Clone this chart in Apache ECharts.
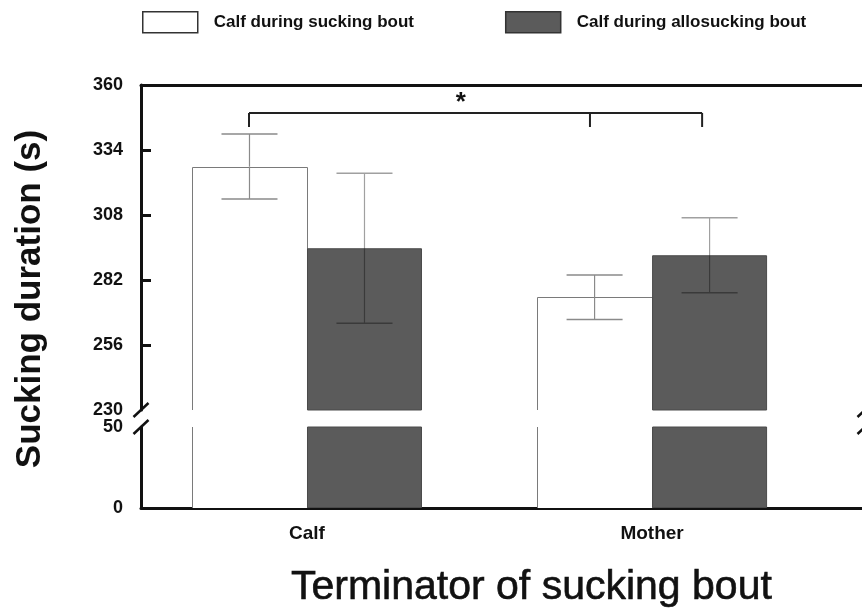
<!DOCTYPE html>
<html><head><meta charset="utf-8">
<script src="https://cdn.jsdelivr.net/npm/echarts@6/dist/echarts.min.js"></script>
<style>html,body{margin:0;padding:0;background:#fff}#c{width:862px;height:615px}</style>
</head><body><div id="c"></div>
<script>
// ---- data ----
const categories = ['Calf', 'Mother'];
const seriesNames = ['Calf during sucking bout', 'Calf during allosucking bout'];
const suckingMeans = [327.4, 275.1];
const suckingSE = [13.0, 8.9];
const allosuckingMeans = [294.7, 291.9];
const allosuckingSE = [30.0, 15.0];
const upperTickLabels = [230, 256, 282, 308, 334, 360];
const upperTickMarks = [256, 282, 308, 334];
const lowerTickLabels = [0, 50];
const bracketX = [0.832, 1.820, 2.145];
const bracketTop = 348.8;
const bracketBottom = 343.2;
const starLabel = '*';
const starPos = [1.446, 352.8];
const xTitle = 'Terminator of sucking bout';
const yTitle = 'Sucking duration (s)';

// ---- styles ----
const FONT = "'Liberation Sans', Arial, Helvetica, sans-serif";
const BAR_W = 115;
const CAP_HALF = 28;
const X_MIN = 0.519, X_MAX = 2.617;
const INK = '#111';

const chart = echarts.init(document.getElementById('c'));

const barPoints = (means) => means.map((v, i) => [i + 1, v]);
const errPoints = (means, se) => means.map((v, i) => [i + 1, v, se[i]]);

function errRenderer(side, darkBar) {
  return function (params, api) {
    const x = api.value(0), m = api.value(1), e = api.value(2);
    const top = api.coord([x, m + e]);
    const mid = api.coord([x, m]);
    const bot = api.coord([x, m - e]);
    const cx = top[0] + side * BAR_W / 2;
    const upColor = darkBar ? '#a0a0a0' : '#8a8a8a';
    const lowColor = darkBar ? '#3a3a3a' : '#8a8a8a';
    return {
      type: 'group',
      children: [
        { type: 'line', shape: { x1: cx, y1: top[1], x2: cx, y2: mid[1] }, style: { stroke: upColor, lineWidth: 1.2 } },
        { type: 'line', shape: { x1: cx - CAP_HALF, y1: top[1], x2: cx + CAP_HALF, y2: top[1] }, style: { stroke: upColor, lineWidth: 1.5 } },
        { type: 'line', shape: { x1: cx, y1: mid[1], x2: cx, y2: bot[1] }, style: { stroke: lowColor, lineWidth: 1.2 } },
        { type: 'line', shape: { x1: cx - CAP_HALF, y1: bot[1], x2: cx + CAP_HALF, y2: bot[1] }, style: { stroke: lowColor, lineWidth: 1.5 } }
      ]
    };
  };
}

// outline of the white (open) bars, without edges where the bar is cut by the axis break
function outlineRenderer(params, api) {
  const cs = params.coordSys;
  const p = api.coord([api.value(0), api.value(1)]);
  const xl = Math.round(p[0] - BAR_W) + 0.5, xr = Math.round(p[0]) + 0.5;
  const yBot = cs.y + cs.height;
  const style = { stroke: '#7a7a7a', lineWidth: 1, fill: null };
  if (p[1] > cs.y) {
    const yT = Math.round(p[1]) + 0.5;
    return { type: 'polyline', shape: { points: [[xl, yBot], [xl, yT], [xr, yT], [xr, yBot]] }, style: style };
  }
  return {
    type: 'group', children: [
      { type: 'line', shape: { x1: xl, y1: cs.y, x2: xl, y2: yBot }, style: style },
      { type: 'line', shape: { x1: xr, y1: cs.y, x2: xr, y2: yBot }, style: style }
    ]
  };
}

function slashRenderer(params, api) {
  const p = api.coord([api.value(0), api.value(1)]);
  return {
    type: 'line',
    shape: { x1: p[0] - 7.5, y1: p[1] + 7, x2: p[0] + 7.5, y2: p[1] - 7 },
    style: { stroke: INK, lineWidth: 2.5 }
  };
}

const xAxisBase = {
  type: 'value', min: X_MIN, max: X_MAX,
  splitLine: { show: false },
  axisTick: { show: false },
  axisLine: { show: true, onZero: false, lineStyle: { color: INK, width: 3 } }
};

const whiteStyle = { color: '#ffffff', borderWidth: 0 };
const darkStyle = { color: '#5b5b5b', borderColor: '#4a4a4a', borderWidth: 1 };

chart.setOption({
  animation: false,
  backgroundColor: '#fff',
  title: {
    text: xTitle, left: 291, top: 567, padding: 0,
    textStyle: { fontFamily: FONT, fontSize: 41, fontWeight: 'normal', color: INK, textBorderColor: INK, textBorderWidth: 0.6 }
  },
  legend: {
    left: 142, top: 11, padding: 0, itemWidth: 55, itemHeight: 21, itemGap: 91,
    icon: 'rect', selectedMode: false,
    textStyle: { fontFamily: FONT, fontSize: 17, fontWeight: 'bold', color: INK, padding: [6, 0, 0, 11] },
    data: [
      { name: seriesNames[0], itemStyle: { color: '#fff', borderColor: '#333', borderWidth: 1.5 } },
      { name: seriesNames[1], itemStyle: { color: '#5b5b5b', borderColor: '#333', borderWidth: 1.5 } }
    ]
  },
  graphic: [{
    type: 'text', x: 30, y: 299, rotation: Math.PI / 2,
    style: { text: yTitle, fontFamily: FONT, fontSize: 35, fontWeight: 'bold', fill: INK, align: 'center', verticalAlign: 'middle' }
  }],
  grid: [
    { left: 141, top: 85, width: 724, height: 325, outerBoundsMode: 'none', containLabel: false },
    { left: 141, top: 427, width: 724, height: 81, outerBoundsMode: 'none', containLabel: false }
  ],
  xAxis: [
    Object.assign({}, xAxisBase, { gridIndex: 0, position: 'top', axisLabel: { show: false } }),
    Object.assign({}, xAxisBase, {
      gridIndex: 1, position: 'bottom',
      axisLabel: {
        show: true, customValues: [1, 2], margin: 16,
        fontFamily: FONT, fontSize: 19, fontWeight: 'bold', color: INK,
        formatter: (v) => categories[Math.round(v) - 1] || ''
      }
    })
  ],
  yAxis: [
    {
      gridIndex: 0, type: 'value', min: 230, max: 360,
      splitLine: { show: false },
      axisLine: { show: true, onZero: false, lineStyle: { color: INK, width: 3 } },
      axisTick: { show: true, inside: true, length: 10, customValues: upperTickMarks, lineStyle: { color: INK, width: 3 } },
      axisLabel: { customValues: upperTickLabels, margin: 18, fontFamily: FONT, fontSize: 18, fontWeight: 'bold', color: INK }
    },
    {
      gridIndex: 1, type: 'value', min: 0, max: 50,
      splitLine: { show: false },
      axisLine: { show: true, onZero: false, lineStyle: { color: INK, width: 3 } },
      axisTick: { show: false },
      axisLabel: { customValues: lowerTickLabels, margin: 18, fontFamily: FONT, fontSize: 18, fontWeight: 'bold', color: INK }
    }
  ],
  series: [
    { name: seriesNames[0], type: 'bar', xAxisIndex: 0, yAxisIndex: 0, z: 2, barWidth: BAR_W, barGap: '0%', itemStyle: whiteStyle, data: barPoints(suckingMeans) },
    { name: seriesNames[1], type: 'bar', xAxisIndex: 0, yAxisIndex: 0, z: 4, barWidth: BAR_W, barGap: '0%', itemStyle: darkStyle, data: barPoints(allosuckingMeans) },
    { name: seriesNames[0], type: 'bar', xAxisIndex: 1, yAxisIndex: 1, z: 2, barWidth: BAR_W, barGap: '0%', itemStyle: whiteStyle, data: barPoints(suckingMeans) },
    { name: seriesNames[1], type: 'bar', xAxisIndex: 1, yAxisIndex: 1, z: 4, barWidth: BAR_W, barGap: '0%', itemStyle: darkStyle, data: barPoints(allosuckingMeans) },
    { type: 'custom', xAxisIndex: 0, yAxisIndex: 0, z: 3, clip: false, renderItem: outlineRenderer, data: barPoints(suckingMeans) },
    { type: 'custom', xAxisIndex: 1, yAxisIndex: 1, z: 3, clip: false, renderItem: outlineRenderer, data: barPoints(suckingMeans) },
    { type: 'custom', xAxisIndex: 0, yAxisIndex: 0, z: 5, clip: false, renderItem: errRenderer(-1, false), data: errPoints(suckingMeans, suckingSE) },
    { type: 'custom', xAxisIndex: 0, yAxisIndex: 0, z: 5, clip: false, renderItem: errRenderer(1, true), data: errPoints(allosuckingMeans, allosuckingSE) },
    {
      type: 'custom', xAxisIndex: 0, yAxisIndex: 0, z: 6, clip: false, data: [[bracketX[0], bracketTop]],
      renderItem: function (params, api) {
        const xs = bracketX.map((v) => api.coord([v, bracketTop])[0]);
        const yT = api.coord([bracketX[0], bracketTop])[1];
        const yB = api.coord([bracketX[0], bracketBottom])[1];
        const s = api.coord(starPos);
        const children = [{ type: 'line', shape: { x1: xs[0], y1: yT, x2: xs[2], y2: yT }, style: { stroke: '#222', lineWidth: 2 } }];
        xs.forEach((x) => children.push({ type: 'line', shape: { x1: x, y1: yT, x2: x, y2: yB }, style: { stroke: '#222', lineWidth: 2 } }));
        children.push({ type: 'text', x: s[0], y: s[1], style: { text: starLabel, fontFamily: FONT, fontSize: 26, fontWeight: 'bold', fill: INK, align: 'center', verticalAlign: 'middle' } });
        return { type: 'group', children: children };
      }
    },
    { type: 'custom', xAxisIndex: 0, yAxisIndex: 0, z: 7, clip: false, renderItem: slashRenderer, data: [[X_MIN, 230], [X_MAX, 230]] },
    { type: 'custom', xAxisIndex: 1, yAxisIndex: 1, z: 7, clip: false, renderItem: slashRenderer, data: [[X_MIN, 50], [X_MAX, 50]] }
  ]
});
</script>
</body></html>
